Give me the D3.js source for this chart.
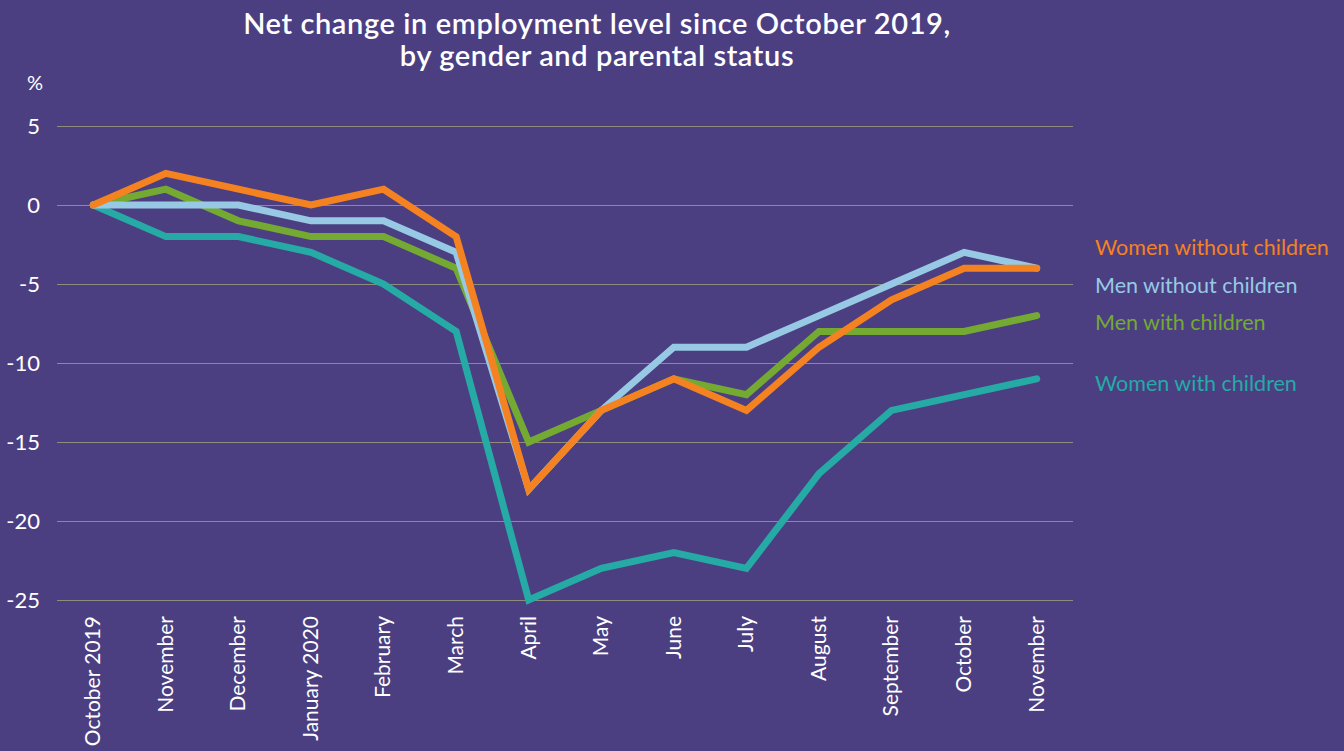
<!DOCTYPE html>
<html>
<head>
<meta charset="utf-8">
<script src="https://cdn.jsdelivr.net/npm/d3@7"></script>
<style>
  body { margin: 0; background: #4b3f82; }
  svg { display: block; }
  .tick text { fill: #fff; font-family: Lato, "Open Sans", sans-serif; }
  .title { fill: #fff; font-family: Lato, sans-serif; font-weight: 600; font-size: 29px; letter-spacing: 0.6px; }
</style>
</head>
<body>
<svg width="1344" height="751"></svg>
<script>
const months = ['October 2019', 'November', 'December', 'January 2020', 'February', 'March',
  'April', 'May', 'June', 'July', 'August', 'September', 'October', 'November']
const womenWithout = [0, 2, 1, 0, 1, -2, -18, -13, -11, -13, -9, -6, -4, -4]
const menWithout = [0, 0, 0, -1, -1, -3, -18, -13, -9, -9, -7, -5, -3, -4]
const menWith = [0, 1, -1, -2, -2, -4, -15, -13, -11, -12, -8, -8, -8, -7]
const womenWith = [0, -2, -2, -3, -5, -8, -25, -23, -22, -23, -17, -13, -12, -11]
const yTicks = [5, 0, -5, -10, -15, -20, -25]

// drawn bottom to top
const series = [
  { name: 'Women with children', values: womenWith, color: '#26aaa6', labelY: 383 },
  { name: 'Men with children', values: menWith, color: '#74aa31', labelY: 322 },
  { name: 'Men without children', values: menWithout, color: '#98c9e4', labelY: 285 },
  { name: 'Women without children', values: womenWithout, color: '#f58220', labelY: 247 }
]

const $svg = d3.select('svg')
const MARGIN = { top: 126, left: 57, right: 271, bottom: 151 }
const width = 1344, height = 751
const boundedWidth = width - MARGIN.left - MARGIN.right
const boundedHeight = height - MARGIN.top - MARGIN.bottom

const xScale = d3.scalePoint()
  .domain(d3.range(months.length))
  .range([0, boundedWidth])
  .padding(0.5)

const yScale = d3.scaleLinear()
  .domain([5, -25])
  .range([0, boundedHeight])

const $gVis = $svg.append('g')
  .attr('transform', `translate(${MARGIN.left}, ${MARGIN.top})`)

// title
$svg.append('text')
  .attr('class', 'title')
  .attr('x', 597)
  .attr('y', 34)
  .attr('text-anchor', 'middle')
  .selectAll('tspan')
  .data(['Net change in employment level since October 2019,', 'by gender and parental status'])
  .join('tspan')
    .attr('x', 597)
    .attr('dy', (d, i) => i ? 32 : 0)
    .text(d => d)

$svg.append('text')
  .attr('x', 35)
  .attr('y', 90)
  .attr('text-anchor', 'middle')
  .attr('fill', '#fff')
  .style('font-family', 'Lato, sans-serif')
  .style('font-size', '20px')
  .text('%')

// Y axis with grid
const yAxis = $gVis.append('g')
  .attr('class', 'axis y-axis')
  .call(d3.axisLeft(yScale).tickValues(yTicks).tickSize(-boundedWidth).tickPadding(17).tickFormat(d => d))
yAxis.select('.domain').remove()
yAxis.selectAll('line').attr('stroke', '#8f8c7c').attr('stroke-width', 1)
yAxis.selectAll('text').style('font-size', '22px')

// X axis labels
const xAxis = $gVis.append('g')
  .attr('class', 'axis x-axis')
  .attr('transform', `translate(0, ${boundedHeight})`)
  .call(d3.axisBottom(xScale).tickSize(0).tickFormat(i => months[i]))
xAxis.select('.domain').remove()
xAxis.selectAll('text')
  .style('font-size', '21px')
  .style('text-anchor', 'end')
  .attr('dy', '0.3em')
  .attr('transform', 'translate(0, 16) rotate(-90)')
  .attr('x', 0)
  .attr('y', 0)

// lines
const line = d3.line()
  .x((d, i) => xScale(i))
  .y(d => yScale(d))

$gVis.selectAll('.series-line')
  .data(series)
  .join('path')
  .attr('class', 'series-line')
  .attr('d', d => line(d.values))
  .attr('fill', 'none')
  .attr('stroke', d => d.color)
  .attr('stroke-width', 7)
  .attr('stroke-linejoin', 'miter')
  .attr('stroke-linecap', 'round')

// legend labels
$svg.selectAll('.legend-text')
  .data(series)
  .join('text')
  .attr('class', 'legend-text')
  .attr('x', 1095)
  .attr('y', d => d.labelY)
  .attr('dy', '0.35em')
  .attr('fill', d => d.color)
  .style('font-family', 'Lato, sans-serif')
  .style('font-size', '21.5px')
  .text(d => d.name)
</script>
</body>
</html>
